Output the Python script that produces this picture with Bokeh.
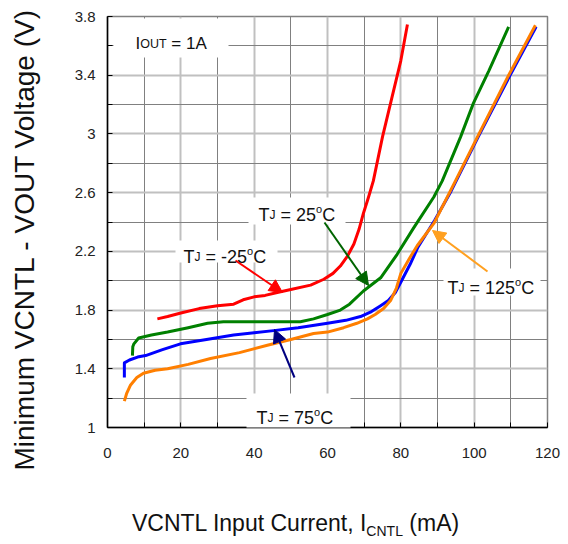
from bokeh.plotting import figure
from bokeh.layouts import column
from bokeh.models import FixedTicker, Label, Arrow, NormalHead, BoxAnnotation, Range1d, Title, Div
from bokeh.embed import file_html
from bokeh.resources import INLINE

# ---------------- data ----------------
x_m25 = [13.6, 16.4, 20, 25, 30, 34.4, 37, 40, 43, 46.3, 50, 55.4, 59, 61.5, 63.5,
         65.5, 67.2, 68.6, 69.8, 71.2, 72.5, 75, 77.5, 80, 81.8]
y_m25 = [1.74, 1.756, 1.78, 1.81, 1.83, 1.84, 1.87, 1.89, 1.90, 1.92, 1.94, 1.97, 2.01, 2.05, 2.10,
         2.17, 2.25, 2.35, 2.46, 2.57, 2.68, 2.98, 3.24, 3.50, 3.745]

x_25 = [6.8, 6.9, 7.2, 8.5, 12, 16.4, 22, 27.3, 31.6, 40, 48, 52.6, 56.2, 60, 63.5, 66,
        69.8, 74.5, 79, 83.5, 89, 91.3, 96.3, 99.8, 104, 109.4]
y_25 = [1.49, 1.55, 1.57, 1.61, 1.63, 1.65, 1.68, 1.71, 1.72, 1.72, 1.72, 1.72, 1.74, 1.77, 1.80, 1.84,
        1.93, 2.02, 2.18, 2.36, 2.57, 2.68, 2.98, 3.21, 3.43, 3.73]

x_75 = [4.6, 4.6, 6, 8.2, 10.4, 15, 19.9, 27, 34.4, 40, 45.3, 52, 60, 65, 69, 72, 74.5, 76.6,
        78.5, 80.2, 82.5, 84.7, 89.2, 93.7, 101.1, 109.6, 116.9]
y_75 = [1.34, 1.44, 1.46, 1.48, 1.49, 1.53, 1.57, 1.60, 1.63, 1.645, 1.66, 1.68, 1.71, 1.73, 1.756, 1.79, 1.83, 1.865,
        1.92, 2.0, 2.11, 2.23, 2.41, 2.61, 2.98, 3.39, 3.73]

x_125 = [4.6, 5.2, 6.3, 8, 9.8, 13, 16.4, 22, 28.1, 36, 43.6, 50, 56.2, 60, 64.4, 68, 70.9, 73,
         75.3, 77.2, 78.8, 80, 82.3, 84.5, 89, 94.9, 100.9, 109.4, 116.7]
y_125 = [1.18, 1.23, 1.29, 1.34, 1.37, 1.39, 1.40, 1.43, 1.47, 1.51, 1.56, 1.60, 1.64, 1.65, 1.68, 1.71, 1.74, 1.77,
         1.81, 1.865, 1.95, 2.05, 2.15, 2.24, 2.39, 2.68, 2.98, 3.40, 3.74]

x_ticks = [0, 20, 40, 60, 80, 100, 120]
x_minor = [10, 30, 50, 70, 90, 110]
y_ticks = [1, 1.4, 1.8, 2.2, 2.6, 3, 3.4, 3.8]
y_tick_labels = ["1", "1.4", "1.8", "2.2", "2.6", "3", "3.4", "3.8"]
y_minor = [1.2, 1.6, 2.0, 2.4, 2.8, 3.2, 3.6]

# ---------------- layout helpers ----------------
FONT = "Liberation Sans"
FL, FW, FT, FH = 107, 440, 16, 411   # frame in page px
X0, X1, Y0, Y1 = 0, 120, 1, 3.8
FIG_W, FIG_H = 564, 470


def dx(px):  # page px -> data x
    return X0 + (px - FL) * (X1 - X0) / FW


def dy(py):  # page px -> data y
    return Y0 + (FT + FH - py) * (Y1 - Y0) / FH


W = {"T": 611, "J": 500, " ": 278, "=": 584, "-": 333, "o": 556, "C": 722, "I": 278,
     "O": 778, "U": 722, "A": 667, "N": 722, "L": 556}
for d in "0123456789":
    W[d] = 556


def tw(s, size):
    return sum(W.get(c, 556) for c in s) * size / 1000.0


p = figure(width=FIG_W, height=FIG_H, x_range=Range1d(X0, X1), y_range=Range1d(Y0, Y1),
           output_backend="svg", toolbar_location=None,
           min_border_left=FL, min_border_right=FIG_W - FL - FW, min_border_top=FT,
           min_border_bottom=FIG_H - FT - FH)
p.background_fill_color = "white"
p.border_fill_color = "white"
p.outline_line_color = "#808080"
p.outline_line_width = 1.5

p.xaxis.ticker = FixedTicker(ticks=x_ticks, minor_ticks=x_minor)
p.yaxis.ticker = FixedTicker(ticks=y_ticks, minor_ticks=y_minor)
p.yaxis.major_label_overrides = dict(zip(y_ticks, y_tick_labels))
for ax in (p.xaxis, p.yaxis):
    ax.axis_line_color = "black"
    ax.axis_line_width = 1.5
    ax.major_tick_in = 5
    ax.major_tick_out = 0
    ax.minor_tick_in = 5
    ax.minor_tick_out = 0
    ax.major_tick_line_color = "black"
    ax.minor_tick_line_color = "black"
    ax.major_label_text_font = FONT
    ax.major_label_text_font_size = "15px"
    ax.major_label_text_color = "#222222"
p.xaxis.major_label_standoff = 20
p.yaxis.major_label_standoff = 12
# invisible spacer label that pushes the y title outward
p.yaxis.axis_label = " "
p.yaxis.axis_label_text_font_size = "1px"
p.yaxis.axis_label_standoff = 26

for g in (p.xgrid, p.ygrid):
    g.grid_line_color = "#c0c0c0"
    g.grid_line_width = 2
    g.minor_grid_line_color = "#808080"
    g.minor_grid_line_width = 1

# curves
p.line(x_m25, y_m25, line_color="#ff0000", line_width=3, line_join="round")
p.line(x_25, y_25, line_color="#008000", line_width=3, line_join="round")
p.line(x_75, y_75, line_color="#0000ff", line_width=3, line_join="round")
p.line(x_125, y_125, line_color="#ff7f00", line_width=3, line_join="round")

# white label boxes
boxes = [(113, 228, 18, 57), (175, 277, 240, 262), (248, 345, 197, 224),
         (443, 540, 268, 295), (246, 350, 393, 430)]
for l, r, t, b in boxes:
    p.add_layout(BoxAnnotation(left=dx(l), right=dx(r), top=dy(t), bottom=dy(b),
                               fill_color="white", fill_alpha=1.0, line_alpha=0,
                               level="annotation"))

# arrows
arrows = [((235, 260), (282, 292), "#ff0000"),
          ((324, 222), (368, 285), "#006400"),
          ((487, 271), (432, 230), "#ffa020"),
          ((294, 377), (274, 329), "#000080")]
for (sx, sy), (ex, ey), c in arrows:
    p.add_layout(Arrow(x_start=dx(sx), y_start=dy(sy), x_end=dx(ex), y_end=dy(ey),
                       line_color=c, line_width=2,
                       end=NormalHead(size=13, fill_color=c, line_color=c, line_width=1)))


def rich(x_px, y_px, pieces, color="#111111"):
    off = 0.0
    for txt, size, rise in pieces:
        lead = len(txt) - len(txt.lstrip(" "))
        off += lead * W[" "] * size / 1000.0
        t = txt.strip(" ")
        p.add_layout(Label(x=dx(x_px), y=dy(y_px), x_offset=off, y_offset=rise, text=t,
                           text_font=FONT, text_font_size=f"{size}px", text_color=color,
                           text_align="left", text_baseline="alphabetic"))
        off += tw(t, size)


def tj(x_px, y_px, temp):
    rich(x_px, y_px, [("T", 18, 0), ("J", 12, 0), (" = " + temp, 18, 0), ("o", 11, 6), ("C", 18, 0)])


rich(135, 43, [("I", 17, 0), ("OUT", 12.5, 0), (" = 1A", 17, 0)])
tj(183, 256, "-25")
tj(258, 214, "25")
tj(447, 287, "125")
tj(256, 417, "75")

# y axis title
p.add_layout(Title(text="Minimum VCNTL - VOUT Voltage (V)", align="left", offset=-43,
                   text_font=FONT, text_font_size="28px", text_font_style="normal",
                   text_color="#111111", standoff=4), "left")

# x axis title (with subscript)
xtitle = Div(text='VCNTL Input Current, I<span style="font-size:14px;position:relative;top:5px">CNTL</span> (mA)',
             width=FIG_W, height=72,
             styles={"font-family": FONT, "font-size": "23px", "line-height": "26px",
                     "color": "#111111", "padding-left": "132px", "padding-top": "40px",
                     "box-sizing": "border-box", "white-space": "nowrap", "margin": "0"})

layout = column(p, xtitle, spacing=0)
open("out.html", "w").write(file_html(layout, INLINE))
